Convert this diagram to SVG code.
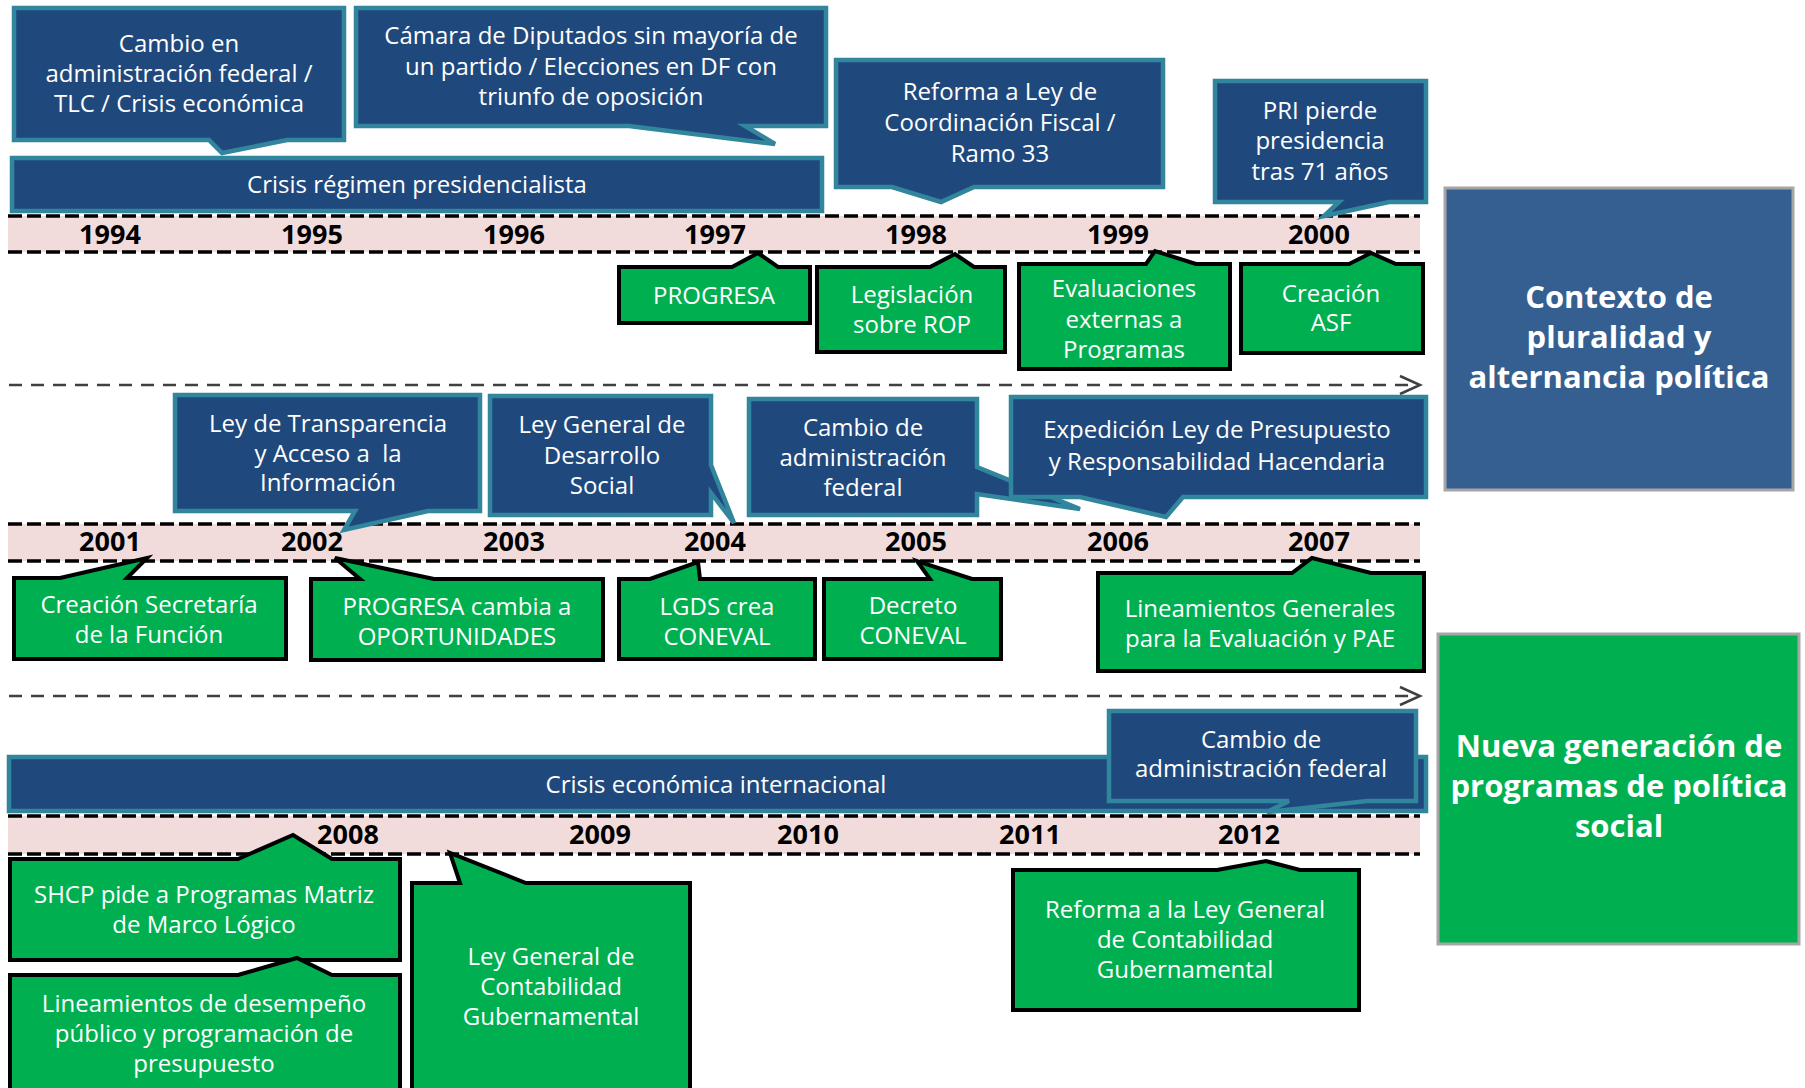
<svg xmlns="http://www.w3.org/2000/svg" width="1805" height="1088" viewBox="0 0 1805 1088">
<style>
.cb{fill:#1F497D;stroke:#31859C;stroke-width:4.5;stroke-linejoin:miter}
.cg{fill:#00B050;stroke:#000;stroke-width:4;stroke-linejoin:miter}
.t{font-family:"Open Sans","Liberation Sans",sans-serif;font-size:24px;fill:#fff;text-anchor:middle}
.y{font-family:"Open Sans","Liberation Sans",sans-serif;font-weight:bold;font-size:27px;fill:#000;text-anchor:middle}
.big{font-family:"Open Sans","Liberation Sans",sans-serif;font-weight:bold;font-size:31px;fill:#fff;text-anchor:middle}
.band{fill:#F2DCDB}
.dl{stroke:#000;stroke-width:3.5;stroke-dasharray:14 5;fill:none}
.arr{stroke:#404040;stroke-width:2.5;stroke-dasharray:13 9;fill:none}
.head{stroke:#404040;stroke-width:2.5;fill:none}
</style>
<defs>
<clipPath id="clipEval"><rect x="1021" y="266" width="207" height="94"/></clipPath>
</defs>
<rect width="1805" height="1088" fill="#fff"/>

<g id="timeline">
<rect class="band" x="8" y="216" width="1412" height="36"/>
<line class="dl" x1="8" y1="216" x2="1420" y2="216"/>
<line class="dl" x1="8" y1="252" x2="1420" y2="252"/>
<text class="y" x="110" y="244">1994</text>
<text class="y" x="312" y="244">1995</text>
<text class="y" x="514" y="244">1996</text>
<text class="y" x="715" y="244">1997</text>
<text class="y" x="916" y="244">1998</text>
<text class="y" x="1118" y="244">1999</text>
<text class="y" x="1319" y="244">2000</text>

<rect class="band" x="8" y="524" width="1412" height="37"/>
<line class="dl" x1="8" y1="524" x2="1420" y2="524"/>
<line class="dl" x1="8" y1="561" x2="1420" y2="561"/>
<text class="y" x="110" y="551">2001</text>
<text class="y" x="312" y="551">2002</text>
<text class="y" x="514" y="551">2003</text>
<text class="y" x="715" y="551">2004</text>
<text class="y" x="916" y="551">2005</text>
<text class="y" x="1118" y="551">2006</text>
<text class="y" x="1319" y="551">2007</text>

<rect class="band" x="8" y="816" width="1412" height="38"/>
<line class="dl" x1="8" y1="816" x2="1420" y2="816"/>
<line class="dl" x1="8" y1="854" x2="1420" y2="854"/>
<text class="y" x="348" y="844">2008</text>
<text class="y" x="600" y="844">2009</text>
<text class="y" x="808" y="844">2010</text>
<text class="y" x="1030" y="844">2011</text>
<text class="y" x="1249" y="844">2012</text>
</g>

<g id="connectors">
<line class="arr" x1="9" y1="385" x2="1418" y2="385"/>
<polyline class="head" points="1400,376 1420,385 1400,394"/>
<line class="arr" x1="9" y1="696" x2="1418" y2="696"/>
<polyline class="head" points="1400,687 1420,696 1400,705"/>
</g>

<g id="bar-crisis-regimen">
<rect class="cb" x="12" y="158" width="810" height="53"/>
<text class="t" x="417" y="193">Crisis régimen presidencialista</text>
</g>
<g id="n-cambio-1994">
<path class="cb" d="M14,8 H344 V140 H287 L222,153 L209,140 H14 Z"/>
<text class="t" x="179" y="52">Cambio en</text>
<text class="t" x="179" y="82">administración federal /</text>
<text class="t" x="179" y="112">TLC / Crisis económica</text>
</g>
<g id="n-camara">
<path class="cb" d="M356,8 H826 V126 H745 L775,144 L629,126 H356 Z"/>
<text class="t" x="591" y="44">Cámara de Diputados sin mayoría de</text>
<text class="t" x="591" y="75">un partido / Elecciones en DF con</text>
<text class="t" x="591" y="105">triunfo de oposición</text>
</g>
<g id="n-reforma-lcf">
<path class="cb" d="M836,60 H1163 V187 H974 L941,202 L892,187 H836 Z"/>
<text class="t" x="1000" y="100">Reforma a Ley de</text>
<text class="t" x="1000" y="131">Coordinación Fiscal /</text>
<text class="t" x="1000" y="162">Ramo 33</text>
</g>
<g id="n-pri">
<path class="cb" d="M1215,81 H1426 V202 H1389 L1324,216 L1339,202 H1215 Z"/>
<text class="t" x="1320" y="119">PRI pierde</text>
<text class="t" x="1320" y="149">presidencia</text>
<text class="t" x="1320" y="180">tras 71 años</text>
</g>

<g id="n-progresa">
<path class="cg" d="M619,267 H732 L758,253 L778,267 H810 V323 H619 Z"/>
<text class="t" x="714" y="304">PROGRESA</text>
</g>
<g id="n-rop">
<path class="cg" d="M817,267 H930 L955,254 L974,267 H1005 V352 H817 Z"/>
<text class="t" x="912" y="303">Legislación</text>
<text class="t" x="912" y="333">sobre ROP</text>
</g>
<g id="n-evaluaciones">
<path class="cg" d="M1019,264 H1146 L1155,251 L1196,264 H1230 V369 H1019 Z"/>
<g clip-path="url(#clipEval)">
<text class="t" x="1124" y="297">Evaluaciones</text>
<text class="t" x="1124" y="328">externas a</text>
<text class="t" x="1124" y="358">Programas</text>
</g>
</g>
<g id="n-asf">
<path class="cg" d="M1241,264 H1349 L1371,253 L1396,264 H1423 V353 H1241 Z"/>
<text class="t" x="1331" y="302">Creación</text>
<text class="t" x="1331" y="331">ASF</text>
</g>

<g id="n-contexto">
<rect x="1445" y="188" width="348" height="302" fill="#365F91" stroke="#A6A6A6" stroke-width="3"/>
<text class="big" x="1619" y="308">Contexto de</text>
<text class="big" x="1619" y="348">pluralidad y</text>
<text class="big" x="1619" y="388">alternancia política</text>
</g>

<g id="n-transparencia">
<path class="cb" d="M175,395 H480 V511 H428 L344,530 L355,511 H175 Z"/>
<text class="t" x="328" y="432">Ley de Transparencia</text>
<text class="t" x="328" y="462" style="white-space:pre">y Acceso a  la</text>
<text class="t" x="328" y="491">Información</text>
</g>
<g id="n-lgds">
<path class="cb" d="M490,396 H711 V465 L734,523 L711,493 V515 H490 Z"/>
<text class="t" x="602" y="433">Ley General de</text>
<text class="t" x="602" y="464">Desarrollo</text>
<text class="t" x="602" y="494">Social</text>
</g>
<g id="n-cambio-2006">
<path class="cb" d="M749,399 H977 V467 L1080,509 L977,494 V515 H749 Z"/>
<text class="t" x="863" y="436">Cambio de</text>
<text class="t" x="863" y="466">administración</text>
<text class="t" x="863" y="496">federal</text>
</g>
<g id="n-lprh">
<path class="cb" d="M1011,397 H1426 V497 H1183 L1166,517 L1080,497 H1011 Z"/>
<text class="t" x="1217" y="438">Expedición Ley de Presupuesto</text>
<text class="t" x="1217" y="470">y Responsabilidad Hacendaria</text>
</g>

<g id="n-sfp">
<path class="cg" d="M14,578 H60 L147,558 L127,578 H286 V659 H14 Z"/>
<text class="t" x="149" y="613">Creación Secretaría</text>
<text class="t" x="149" y="643">de la Función</text>
</g>
<g id="n-oportunidades">
<path class="cg" d="M311,579 H360 L335,558 L434,579 H603 V660 H311 Z"/>
<text class="t" x="457" y="615">PROGRESA cambia a</text>
<text class="t" x="457" y="645">OPORTUNIDADES</text>
</g>
<g id="n-lgds-coneval">
<path class="cg" d="M619,579 H650 L698,562 L700,579 H815 V659 H619 Z"/>
<text class="t" x="717" y="615">LGDS crea</text>
<text class="t" x="717" y="645">CONEVAL</text>
</g>
<g id="n-decreto">
<path class="cg" d="M824,579 H930 L917,561 L972,579 H1001 V659 H824 Z"/>
<text class="t" x="913" y="614">Decreto</text>
<text class="t" x="913" y="644">CONEVAL</text>
</g>
<g id="n-lineamientos-pae">
<path class="cg" d="M1098,573 H1292 L1312,558 L1371,573 H1424 V671 H1098 Z"/>
<text class="t" x="1260" y="617">Lineamientos Generales</text>
<text class="t" x="1260" y="647">para la Evaluación y PAE</text>
</g>

<g id="n-nueva">
<rect x="1438" y="634" width="361" height="310" fill="#00B050" stroke="#A6A6A6" stroke-width="3"/>
<text class="big" x="1619" y="757">Nueva generación de</text>
<text class="big" x="1619" y="797">programas de política</text>
<text class="big" x="1619" y="837">social</text>
</g>

<g id="bar-crisis-economica">
<rect class="cb" x="9" y="757" width="1417" height="54"/>
<text class="t" x="716" y="793">Crisis económica internacional</text>
</g>
<g id="n-cambio-2012">
<path class="cb" d="M1109,711 H1416 V801 H1367 L1267,812 L1289,801 H1109 Z"/>
<text class="t" x="1261" y="748">Cambio de</text>
<text class="t" x="1261" y="777">administración federal</text>
</g>

<g id="n-shcp">
<path class="cg" d="M10,859 H238 L293,835 L332,859 H400 V960 H10 Z"/>
<text class="t" x="204" y="903">SHCP pide a Programas Matriz</text>
<text class="t" x="204" y="933">de Marco Lógico</text>
</g>
<g id="n-lineamientos-desempeno">
<path class="cg" d="M10,975 H238 L297,958 L332,975 H400 V1100 H10 Z"/>
<text class="t" x="204" y="1012">Lineamientos de desempeño</text>
<text class="t" x="204" y="1042">público y programación de</text>
<text class="t" x="204" y="1072">presupuesto</text>
</g>
<g id="n-lgcg">
<path class="cg" d="M412,883 H460 L450,853 L526,883 H690 V1100 H412 Z"/>
<text class="t" x="551" y="965">Ley General de</text>
<text class="t" x="551" y="995">Contabilidad</text>
<text class="t" x="551" y="1025">Gubernamental</text>
</g>
<g id="n-reforma-lgcg">
<path class="cg" d="M1013,870 H1217 L1266,861 L1300,870 H1359 V1010 H1013 Z"/>
<text class="t" x="1185" y="918">Reforma a la Ley General</text>
<text class="t" x="1185" y="948">de Contabilidad</text>
<text class="t" x="1185" y="978">Gubernamental</text>
</g>
</svg>
